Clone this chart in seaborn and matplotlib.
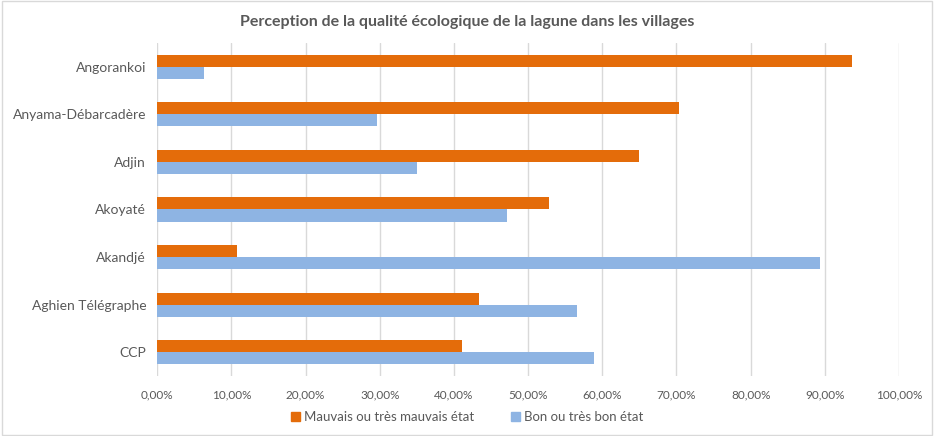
import matplotlib
matplotlib.use("Agg")
import matplotlib.pyplot as plt
import matplotlib.patches as mpatches
import numpy as np
import pandas as pd
import seaborn as sns

# données (en %)
villages = ["Angorankoi", "Anyama-Débarcadère", "Adjin", "Akoyaté",
            "Akandjé", "Aghien Télégraphe", "CCP"]
mauvais = [93.7, 70.4, 65.0, 52.8, 10.7, 43.4, 41.1]
bon = [6.3, 29.6, 35.0, 47.2, 89.3, 56.6, 58.9]
series = ["Mauvais ou très mauvais état", "Bon ou très bon état"]
couleurs = ["#E46C0A", "#8EB4E3"]
ticks = np.arange(0, 101, 10)

df = pd.DataFrame({
    "village": villages * 2,
    "valeur": mauvais + bon,
    "serie": [series[0]] * len(villages) + [series[1]] * len(villages),
})

sns.set_theme(style="white")
plt.rcParams['font.family'] = ['Lato', 'DejaVu Sans']
gris = "#595959"

fig = plt.figure(figsize=(9.34, 4.36), dpi=100)
ax = fig.add_axes([0.1684, 0.1376, 0.7941, 0.7638])

sns.barplot(data=df, x="valeur", y="village", hue="serie",
            order=villages, hue_order=series, palette=couleurs,
            saturation=1, orient="h", width=0.51, linewidth=0,
            ax=ax, legend=False)

ax.set_xlim(0, 100)
ax.set_ylim(6.5, -0.5)
ax.set_xticks(ticks)
ax.set_xticklabels([f"{t:.2f}%".replace(".", ",") for t in ticks],
                   fontsize=8.5, color=gris)
ax.tick_params(axis="y", labelsize=10, labelcolor=gris, length=0, pad=8)
ax.tick_params(axis="x", length=0, pad=10)
ax.set_xlabel("")
ax.set_ylabel("")
ax.grid(axis="x", color="#D9D9D9", linewidth=1)
ax.set_axisbelow(True)
for s in ax.spines.values():
    s.set_visible(False)

fig.suptitle("Perception de la qualité écologique de la lagune dans les villages",
             x=0.5, y=1 - 22 / 436, va="center", fontsize=11.5,
             fontweight="bold", color=gris)

handles = [mpatches.Patch(color=c, label=l) for c, l in zip(couleurs, series)]
fig.legend(handles=handles, loc="center", bbox_to_anchor=(0.5, 1 - 417 / 436),
           ncol=2, frameon=False, fontsize=9.5, labelcolor=gris,
           handlelength=0.7, handleheight=0.7, handletextpad=0.3,
           columnspacing=2.8)

# cadre du graphique
fig.patches.append(mpatches.Rectangle((0.002, 0.003), 0.996, 0.994,
                                      transform=fig.transFigure, fill=False,
                                      edgecolor="#D9D9D9", linewidth=1))

fig.savefig("out.png", dpi=100)
